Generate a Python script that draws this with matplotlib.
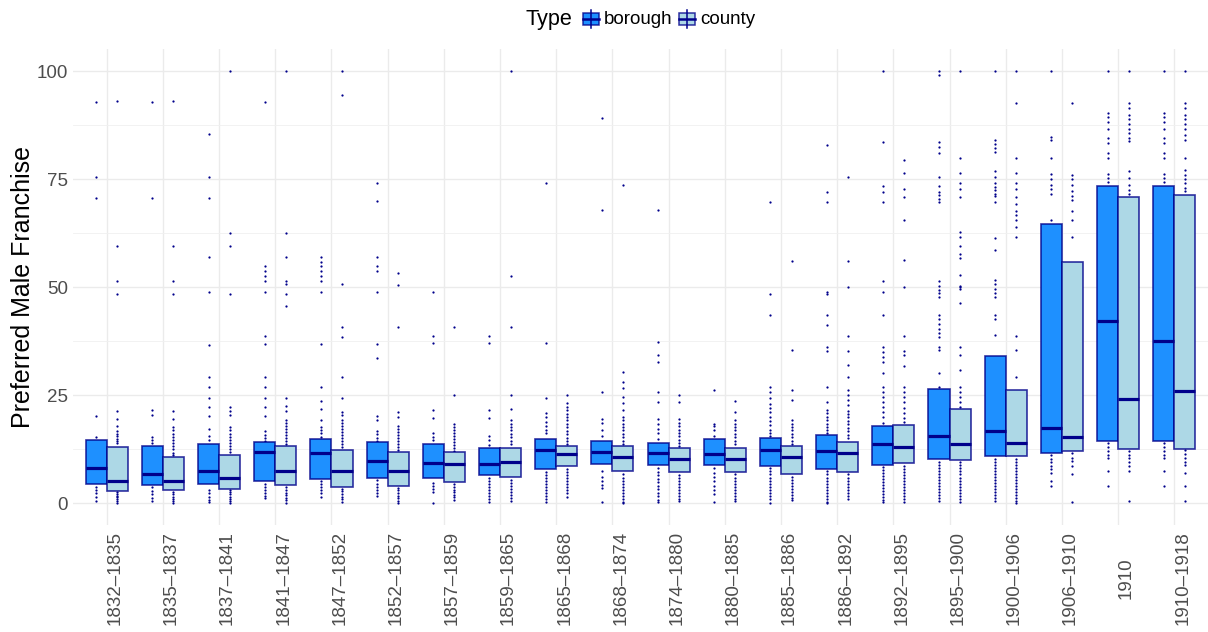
import matplotlib.pyplot as plt
from matplotlib.patches import Rectangle
from matplotlib.lines import Line2D

plt.rcParams['font.family'] = ['Liberation Sans', 'DejaVu Sans']

periods = ["1832–1835", "1835–1837", "1837–1841", "1841–1847", "1847–1852",
           "1852–1857", "1857–1859", "1859–1865", "1865–1868", "1868–1874",
           "1874–1880", "1880–1885", "1885–1886", "1886–1892", "1892–1895",
           "1895–1900", "1900–1906", "1906–1910", "1910", "1910–1918"]

# quartiles per period
borough_q1 = [4.3, 4.2, 4.5, 5.0, 5.6, 5.9, 5.9, 6.4, 7.9, 9.0,
              8.7, 8.7, 8.6, 7.9, 8.9, 10.1, 10.9, 11.5, 14.4, 14.4]
borough_med = [8.2, 6.7, 7.5, 11.7, 11.5, 9.8, 9.3, 9.1, 12.3, 11.9,
               11.6, 11.3, 12.2, 12.1, 13.7, 15.4, 16.7, 17.4, 42.2, 37.4]
borough_q3 = [14.6, 13.2, 13.7, 14.2, 14.7, 14.1, 13.7, 12.7, 14.9, 14.4,
              14.0, 14.7, 15.1, 15.7, 17.9, 26.4, 34.1, 64.5, 73.4, 73.4]

county_q1 = [2.8, 2.9, 3.3, 4.1, 3.8, 4.0, 4.8, 6.0, 8.6, 7.3,
             7.1, 7.2, 6.6, 7.2, 9.2, 10.0, 10.9, 12.0, 12.5, 12.5]
county_med = [5.1, 5.2, 5.7, 7.3, 7.3, 7.4, 9.0, 9.5, 11.3, 10.7,
              10.1, 10.3, 10.6, 11.6, 13.0, 13.7, 13.9, 15.2, 24.1, 26.0]
county_q3 = [13.0, 10.6, 11.2, 13.2, 12.3, 11.7, 11.7, 12.8, 13.3, 13.3,
             12.8, 12.8, 13.2, 14.2, 18.1, 21.8, 26.2, 55.9, 70.8, 71.4]

# constituencies outside the boxes
borough_out = [
    [92.8, 75.5, 70.7, 20.2, 15.3, 3.8, 3.0, 2.2, 1.5, 0.4],
    [92.8, 70.7, 21.5, 20.4, 15.3, 14.6, 13.8, 3.6, 2.8, 2.0, 1.2, 0.5],
    [85.5, 75.5, 70.7, 56.9, 48.8, 36.6, 29.2, 26.8, 24.2, 22.2, 20.2, 17.1, 15.6, 14.6,
     3.0, 2.2, 1.5, 0.8, 0.3],
    [92.8, 54.9, 53.8, 52.6, 51.5, 48.8, 38.7, 36.7, 29.2, 26.8, 24.2, 22.2, 20.2, 16.7,
     15.8, 15.0, 14.4, 4.4, 3.7, 3.0, 2.3, 1.6, 1.1],
    [56.9, 55.7, 54.9, 53.8, 52.6, 51.5, 48.8, 36.7, 26.9, 23.5, 21.7, 19.2, 17.7, 16.9,
     16.1, 15.3, 5.0, 4.3, 3.6, 2.9, 2.2, 1.5],
    [74.1, 70.0, 56.9, 54.9, 53.8, 48.8, 36.8, 33.5, 20.2, 19.2, 16.7, 15.9, 15.0, 14.4,
     5.3, 4.5, 3.7, 2.9, 2.2, 1.6],
    [48.9, 38.7, 37.0, 21.5, 19.7, 16.1, 15.3, 14.6, 4.7, 4.0, 3.3, 2.5, 0.0],
    [38.7, 37.0, 21.5, 19.7, 15.6, 14.6, 13.5, 5.8, 5.1, 4.4, 3.7, 3.0, 2.3, 1.6, 0.9, 0.2],
    [74.1, 37.0, 24.2, 20.8, 19.8, 18.8, 17.8, 16.8, 16.1, 7.2, 6.5, 5.8, 5.1, 4.4, 3.7,
     3.0, 2.3, 1.6, 0.9, 0.2],
    [89.2, 67.8, 25.6, 19.4, 18.5, 17.0, 15.5, 7.5, 6.0, 5.0, 4.2, 3.5, 0.3],
    [67.8, 37.3, 34.3, 32.7, 25.6, 23.3, 19.4, 18.3, 17.2, 16.1, 14.8, 8.0, 7.2, 6.4, 5.6,
     4.8, 4.0, 3.2, 2.4, 1.6, 0.8, 0.3],
    [26.2, 18.4, 17.8, 16.9, 15.5, 8.0, 7.0, 6.0, 5.0, 4.0, 3.0, 2.0, 0.2],
    [69.6, 48.3, 43.5, 26.9, 25.8, 24.2, 23.0, 22.0, 21.0, 20.0, 19.0, 18.0, 17.0, 16.2,
     15.6, 8.0, 7.3, 6.6, 5.9, 5.2, 4.5, 3.8, 3.1, 2.4, 1.7, 1.0, 0.0],
    [82.9, 72.1, 69.6, 48.8, 48.3, 43.5, 41.2, 36.2, 35.3, 26.8, 23.3, 21.6, 20.8, 20.0,
     19.2, 18.4, 17.6, 16.8, 16.1, 7.3, 6.6, 5.9, 5.2, 4.5, 3.8, 3.1, 2.4, 1.7, 1.0, 0.3, 0.0],
    [100.0, 83.5, 73.4, 72.1, 69.6, 51.4, 48.8, 43.6, 36.2, 35.0, 33.9, 32.7, 30.2, 26.9,
     25.8, 24.6, 23.4, 22.2, 21.0, 19.8, 18.6, 8.3, 7.6, 6.9, 6.2, 5.5, 4.8, 4.1, 3.4, 2.7,
     2.0, 1.3, 0.6, 0.2],
    [99.9, 99.0, 83.6, 82.5, 81.1, 75.5, 73.4, 72.1, 71.3, 70.3, 69.7, 51.4, 50.3, 49.3,
     48.5, 47.7, 43.6, 42.5, 41.4, 40.3, 39.4, 38.5, 36.2, 35.4, 30.2, 26.9, 9.5, 8.8, 8.1,
     7.4, 6.7, 6.0, 5.3, 4.6, 3.9, 3.2, 2.5, 1.8, 1.1, 0.4],
    [100.0, 84.1, 83.2, 82.2, 81.3, 76.8, 75.5, 74.0, 73.2, 72.4, 71.6, 71.0, 69.6, 61.4,
     58.6, 51.6, 50.6, 49.6, 48.6, 47.6, 43.6, 42.6, 38.9, 10.3, 9.6, 8.9, 8.2, 7.5, 6.8,
     6.1, 5.4, 4.7, 4.0, 3.3, 2.6, 1.9, 1.2, 0.5],
    [100.0, 84.7, 84.1, 79.9, 76.2, 75.0, 73.7, 72.6, 71.6, 65.4, 11.0, 10.2, 9.4, 8.6,
     7.8, 6.9, 5.1, 4.0],
    [100.0, 90.2, 89.4, 88.3, 86.5, 84.6, 83.3, 81.1, 79.9, 76.1, 75.2, 74.2, 14.0, 13.0,
     12.0, 11.1, 10.5, 7.3, 4.0],
    [100.0, 90.2, 89.4, 88.3, 86.5, 84.6, 83.3, 81.1, 79.9, 76.1, 75.2, 74.2, 14.0, 13.0,
     12.0, 11.1, 10.5, 7.3, 4.0],
]

county_out = [
    [93.0, 59.6, 51.5, 48.4, 21.3, 19.5, 17.8, 16.7, 15.9, 15.4, 14.8, 14.3, 13.8, 2.5,
     2.1, 1.7, 1.3, 0.9, 0.5, 0.1],
    [93.0, 59.6, 51.5, 48.4, 21.3, 19.5, 17.7, 16.8, 16.0, 15.3, 14.5, 13.8, 13.1, 12.4,
     11.6, 11.0, 2.5, 2.0, 1.5, 1.0, 0.5, 0.0],
    [100.0, 62.4, 59.6, 48.4, 22.2, 21.4, 20.3, 17.6, 16.8, 16.0, 15.3, 14.6, 13.9, 13.2,
     12.5, 11.8, 3.0, 2.5, 2.0, 1.5, 1.0, 0.5, 0.0],
    [100.0, 62.4, 56.9, 51.5, 50.7, 48.4, 45.7, 24.2, 22.5, 21.4, 19.2, 18.5, 17.8, 17.1,
     16.4, 15.7, 15.0, 14.3, 13.6, 3.6, 3.0, 2.4, 1.8, 1.2, 0.6, 0.0],
    [100.0, 94.4, 50.7, 40.7, 38.4, 29.2, 24.2, 21.1, 20.4, 19.2, 18.5, 17.8, 17.1, 16.4,
     15.7, 15.0, 14.3, 13.6, 12.9, 3.3, 2.7, 2.1, 1.5, 0.9, 0.3],
    [53.3, 50.5, 40.8, 21.0, 20.0, 17.9, 17.2, 16.5, 15.8, 15.1, 14.4, 13.7, 13.0, 12.3,
     3.5, 2.9, 2.3, 1.7, 1.1, 0.5, 0.0],
    [40.8, 25.0, 18.4, 17.6, 16.9, 16.2, 15.5, 14.8, 14.1, 13.4, 12.7, 12.0, 4.3, 3.7,
     3.1, 2.5, 1.9, 1.3, 0.7],
    [100.0, 52.6, 40.8, 25.0, 21.7, 19.2, 18.4, 17.6, 16.8, 16.0, 15.2, 14.4, 13.6, 5.4,
     4.7, 4.0, 3.3, 2.6, 1.9, 1.2, 0.5],
    [25.0, 23.1, 22.3, 21.5, 20.7, 19.9, 19.1, 18.3, 17.5, 16.7, 15.9, 15.1, 14.3, 13.6,
     7.9, 7.2, 6.5, 5.8, 5.1, 4.4, 3.7, 3.0, 2.3, 1.5],
    [73.6, 30.4, 28.1, 26.7, 24.6, 23.1, 21.5, 20.0, 19.2, 18.4, 17.6, 16.8, 16.0, 15.2,
     14.4, 13.6, 6.6, 5.9, 5.2, 4.5, 3.8, 3.1, 2.4, 1.7, 1.0, 0.3, 0.0],
    [25.0, 23.3, 19.4, 18.6, 17.8, 17.0, 16.2, 15.4, 14.6, 13.8, 13.1, 6.5, 5.8, 5.1,
     4.4, 3.7, 3.0, 2.3, 1.6, 0.9, 0.5],
    [23.5, 21.1, 19.2, 18.4, 17.6, 16.8, 16.0, 15.2, 14.4, 13.6, 6.6, 5.9, 5.2, 4.5, 3.8,
     3.1, 2.4, 1.7, 1.0, 0.4],
    [56.0, 35.4, 26.2, 23.8, 19.2, 18.4, 17.6, 16.8, 16.0, 15.2, 14.4, 13.6, 6.0, 5.3,
     4.6, 3.9, 3.2, 2.5, 1.8, 1.1, 0.7],
    [75.5, 56.0, 50.0, 38.7, 35.3, 31.9, 29.1, 26.2, 25.0, 23.8, 22.6, 21.4, 20.6, 19.8,
     19.0, 18.2, 17.4, 16.6, 15.8, 15.0, 6.6, 5.9, 5.2, 4.5, 3.8, 3.1, 2.4, 1.7, 1.0],
    [79.5, 76.4, 72.6, 70.8, 65.5, 56.2, 50.0, 38.7, 35.3, 34.3, 31.6, 26.9, 25.7, 24.5,
     23.3, 22.1, 20.9, 19.7, 18.8, 8.6, 7.9, 7.2, 6.5, 5.8, 5.1, 4.4, 3.7, 3.0, 2.3, 1.6,
     0.9, 0.2],
    [100.0, 79.9, 76.4, 74.0, 72.6, 70.8, 62.8, 61.5, 59.4, 57.6, 56.8, 52.8, 50.3, 49.9,
     49.5, 46.4, 36.2, 34.3, 30.8, 26.9, 25.7, 24.5, 23.3, 22.3, 9.4, 8.7, 8.0, 7.3, 6.6,
     5.9, 5.2, 4.5, 3.8, 3.1, 2.4, 1.7, 1.0, 0.3],
    [100.0, 92.7, 79.8, 76.4, 74.0, 72.6, 70.8, 69.2, 67.7, 66.7, 65.5, 64.0, 61.5, 38.7,
     35.4, 29.1, 10.3, 9.6, 8.9, 8.2, 7.5, 6.8, 6.1, 5.4, 4.7, 4.0, 3.3, 2.6, 1.9, 1.2,
     0.5, 0.0],
    [92.7, 76.0, 74.9, 73.6, 72.3, 71.0, 70.2, 67.6, 65.5, 61.5, 11.5, 10.5, 9.8, 8.6,
     6.6, 0.3],
    [100.0, 92.7, 91.4, 89.9, 88.9, 87.7, 86.6, 85.6, 84.6, 83.7, 76.8, 75.2, 73.6, 72.5,
     71.5, 12.0, 11.2, 10.4, 9.5, 8.6, 7.3, 0.4],
    [100.0, 92.7, 91.4, 89.9, 88.9, 87.7, 86.6, 85.3, 84.0, 79.9, 77.0, 76.0, 75.0, 74.0,
     73.0, 72.3, 12.3, 11.4, 10.5, 9.6, 8.7, 6.9, 4.0, 0.4],
]

BOROUGH = "#1E90FF"
COUNTY = "#ADD8E6"
DARK = "#00008B"
EDGE = (0, 0, 0.545, 0.8)
box_w = 0.375

fig = plt.figure(figsize=(12.08, 6.32), dpi=100)
ax = fig.add_axes([73 / 1208, 107.4 / 632, 1135 / 1208, 475.2 / 632])

series = [
    (-box_w / 2, borough_q1, borough_med, borough_q3, borough_out, BOROUGH),
    (box_w / 2, county_q1, county_med, county_q3, county_out, COUNTY),
]
for shift, q1, med, q3, outs, colour in series:
    xs = [i + shift for i in range(len(periods))]
    ax.bar(xs, [b - a for a, b in zip(q1, q3)], bottom=q1, width=box_w,
           color=colour, edgecolor=EDGE, linewidth=1.2, zorder=3)
    ax.hlines(med, [x - box_w / 2 for x in xs], [x + box_w / 2 for x in xs],
              colors=DARK, linewidth=2.3, zorder=4)
    px, py = [], []
    for x, vals in zip(xs, outs):
        px += [x] * len(vals)
        py += vals
    ax.scatter(px, py, s=2.6, color=DARK, linewidths=0, zorder=2)

ax.set_xlim(-0.6, len(periods) - 0.4)
ax.set_ylim(-5, 105)
ax.set_yticks([0, 25, 50, 75, 100])
ax.set_yticks([12.5, 37.5, 62.5, 87.5], minor=True)
ax.set_xticks(range(len(periods)))
ax.set_xticklabels(periods, rotation=90, ha="left", va="center")
ax.grid(which="major", color="#EBEBEB", linewidth=1.0, zorder=0)
ax.grid(which="minor", axis="y", color="#F0F0F0", linewidth=0.6, zorder=0)
ax.set_axisbelow(True)
for s in ax.spines.values():
    s.set_visible(False)
ax.tick_params(which="both", length=0, labelsize=13.5, labelcolor="#4D4D4D")
ax.tick_params(axis="x", pad=38.5)
ax.tick_params(axis="y", pad=3.5)
ax.set_ylabel("Preferred Male Franchise", fontsize=18, color="black", labelpad=1.5)

# legend along the top
W, H = 1208, 632
fig.text(526 / W, 1 - 20 / H, "Type", fontsize=15.6, ha="left", va="center")
for x0, colour, label in [(583, BOROUGH, "borough"), (679, COUNTY, "county")]:
    fig.add_artist(Line2D([(x0 + 8) / W] * 2, [1 - 10 / H, 1 - 27.7 / H],
                          transform=fig.transFigure, color=DARK, linewidth=1.1))
    fig.add_artist(Rectangle((x0 / W, 1 - 25 / H), 16 / W, 12.3 / H,
                             transform=fig.transFigure, facecolor=colour,
                             edgecolor=EDGE, linewidth=1.1))
    fig.add_artist(Line2D([x0 / W, (x0 + 16) / W], [1 - 19 / H] * 2,
                          transform=fig.transFigure, color=DARK, linewidth=1.8))
    fig.text((x0 + 21) / W, 1 - 19.5 / H, label, fontsize=13.5, ha="left", va="center")

fig.savefig("out.png", dpi=100)
